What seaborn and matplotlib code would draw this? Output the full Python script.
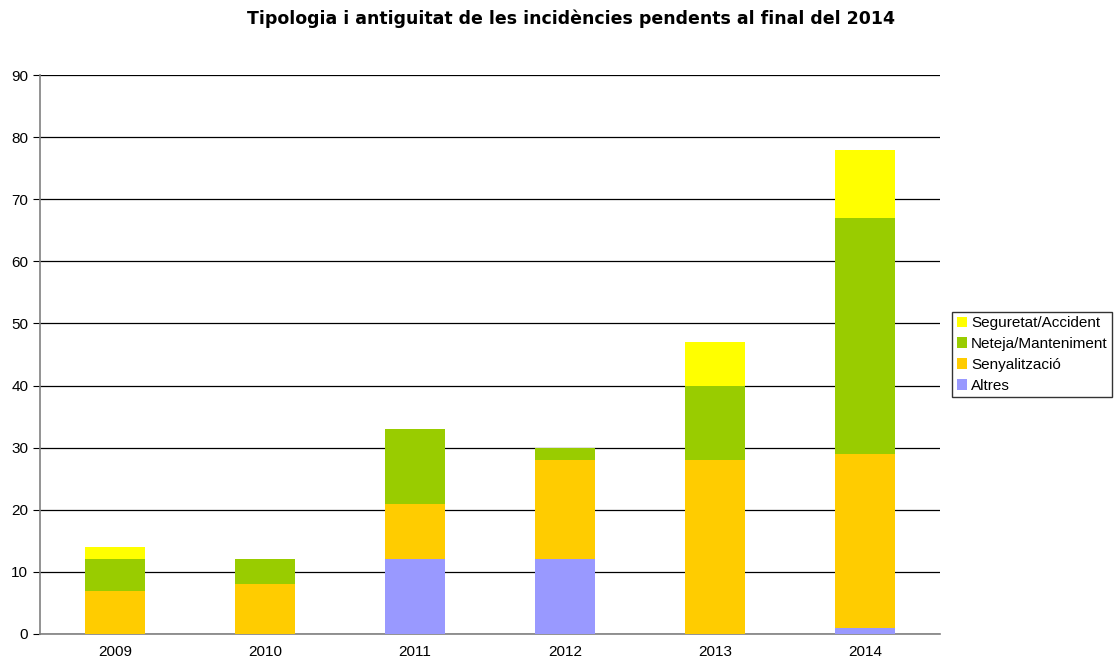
import numpy as np
import pandas as pd
import matplotlib.pyplot as plt
import seaborn as sns

sns.set_style("white")
plt.rcParams['font.family'] = ['Liberation Sans', 'DejaVu Sans']
plt.rcParams['text.color'] = "black"
plt.rcParams['xtick.color'] = "black"
plt.rcParams['ytick.color'] = "black"

years = ["2009", "2010", "2011", "2012", "2013", "2014"]
altres = [0, 0, 12, 12, 0, 1]
senyalitzacio = [7, 8, 9, 16, 28, 28]
neteja = [5, 4, 12, 2, 12, 38]
seguretat = [2, 0, 0, 0, 7, 11]

series = [
    ("Altres", altres, "#9999FF"),
    ("Senyalització", senyalitzacio, "#FFCC00"),
    ("Neteja/Manteniment", neteja, "#99CC00"),
    ("Seguretat/Accident", seguretat, "#FFFF00"),
]

fig = plt.figure(figsize=(11.17, 6.64), dpi=100)
ax = fig.add_axes([0.0358, 0.0452, 0.806, 0.8418])

# stacked bars: each segment sits on the running total
bottom = np.zeros(len(years))
for name, vals, color in series:
    df = pd.DataFrame({"year": years, "value": vals})
    sns.barplot(data=df, x="year", y="value", color=color, bottom=bottom,
                width=0.4, saturation=1, ax=ax, label=name, zorder=3,
                linewidth=0)
    bottom = bottom + np.array(vals)

ax.set_xlim(-0.5, 5.5)
ax.set_ylim(0, 90)
ax.set_yticks(range(0, 91, 10))
ax.yaxis.grid(True, color="#000000", linewidth=0.9, zorder=0)
ax.set_axisbelow(True)
ax.set_xlabel("")
ax.set_ylabel("")

for s in ["top", "right"]:
    ax.spines[s].set_visible(False)
for s in ["left", "bottom"]:
    ax.spines[s].set_color("#808080")
    ax.spines[s].set_linewidth(1.2)

# category separators as ticks
ax.set_xticks(np.arange(0, 6), labels=years)
ax.set_xticks(np.arange(-0.5, 6, 1), minor=True)
ax.tick_params(axis="x", which="major", length=0, labelsize=11, pad=8)
ax.tick_params(axis="x", which="minor", length=5, color="#000000", width=1)
ax.tick_params(axis="y", length=5, color="#000000", labelsize=11, left=True)

fig.text(0.511, 0.972,
         "Tipologia i antiguitat de les incidències pendents al final del 2014",
         ha="center", va="center", fontsize=12.5, fontweight="heavy",
         family=["DejaVu Sans"], color="black")

handles, labels = ax.get_legend_handles_labels()
leg = ax.legend(handles[::-1], labels[::-1], loc="center left",
                bbox_to_anchor=(1.013, 0.5), frameon=True, fontsize=11,
                handlelength=0.7, handleheight=0.7, handletextpad=0.25,
                borderpad=0.3, labelspacing=0.45, fancybox=False,
                borderaxespad=0)
leg.get_frame().set_edgecolor("#000000")
leg.get_frame().set_linewidth(1)

fig.savefig("out.png", dpi=100)
